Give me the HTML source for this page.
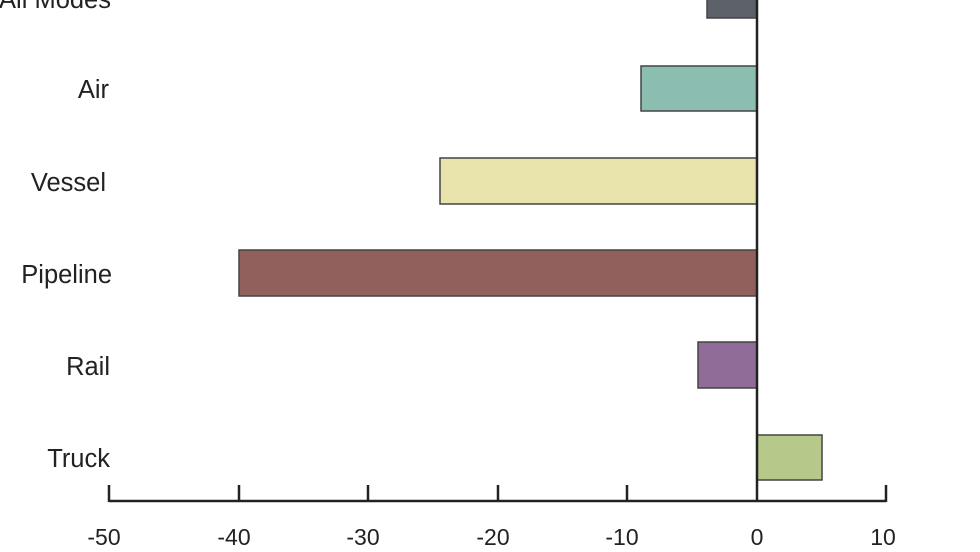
<!DOCTYPE html>
<html><head><meta charset="utf-8"><style>
html,body{margin:0;padding:0;background:#fff;width:980px;height:552px;overflow:hidden}
svg text{font-family:"Liberation Sans",sans-serif;fill:#222}
</style></head><body>
<svg width="980" height="552" viewBox="0 0 980 552" xmlns="http://www.w3.org/2000/svg">
<g stroke="#444" stroke-width="1.5">
<rect x="707" y="-5" width="50" height="23" fill="#5b6069"/>
<rect x="641" y="66" width="116" height="45" fill="#8cbdb1"/>
<rect x="440" y="158" width="317" height="46" fill="#e8e2ab"/>
<rect x="239" y="250" width="518" height="46" fill="#92605c"/>
<rect x="698" y="342" width="59" height="46" fill="#906d99"/>
<rect x="757" y="435" width="65" height="45" fill="#b7c98a"/>
</g>
<g stroke="#222" stroke-width="2.5" fill="none">
<line x1="757" y1="0" x2="757" y2="502"/>
<line x1="109" y1="501" x2="886" y2="501"/>
<line x1="109" y1="485" x2="109" y2="502"/>
<line x1="239" y1="485" x2="239" y2="502"/>
<line x1="368" y1="485" x2="368" y2="502"/>
<line x1="498" y1="485" x2="498" y2="502"/>
<line x1="627" y1="485" x2="627" y2="502"/>
<line x1="886" y1="485" x2="886" y2="502"/>
</g>
<g font-size="23" text-anchor="middle">
<text x="104" y="545">-50</text>
<text x="234" y="545">-40</text>
<text x="363" y="545">-30</text>
<text x="493" y="545">-20</text>
<text x="622" y="545">-10</text>
<text x="757" y="545">0</text>
<text x="883" y="545">10</text>
</g>
<g font-size="25.5" text-anchor="end">
<text x="111" y="8">All Modes</text>
<text x="109" y="98">Air</text>
<text x="106" y="191">Vessel</text>
<text x="112" y="283">Pipeline</text>
<text x="110" y="375">Rail</text>
<text x="110" y="467">Truck</text>
</g>
</svg>
</body></html>
